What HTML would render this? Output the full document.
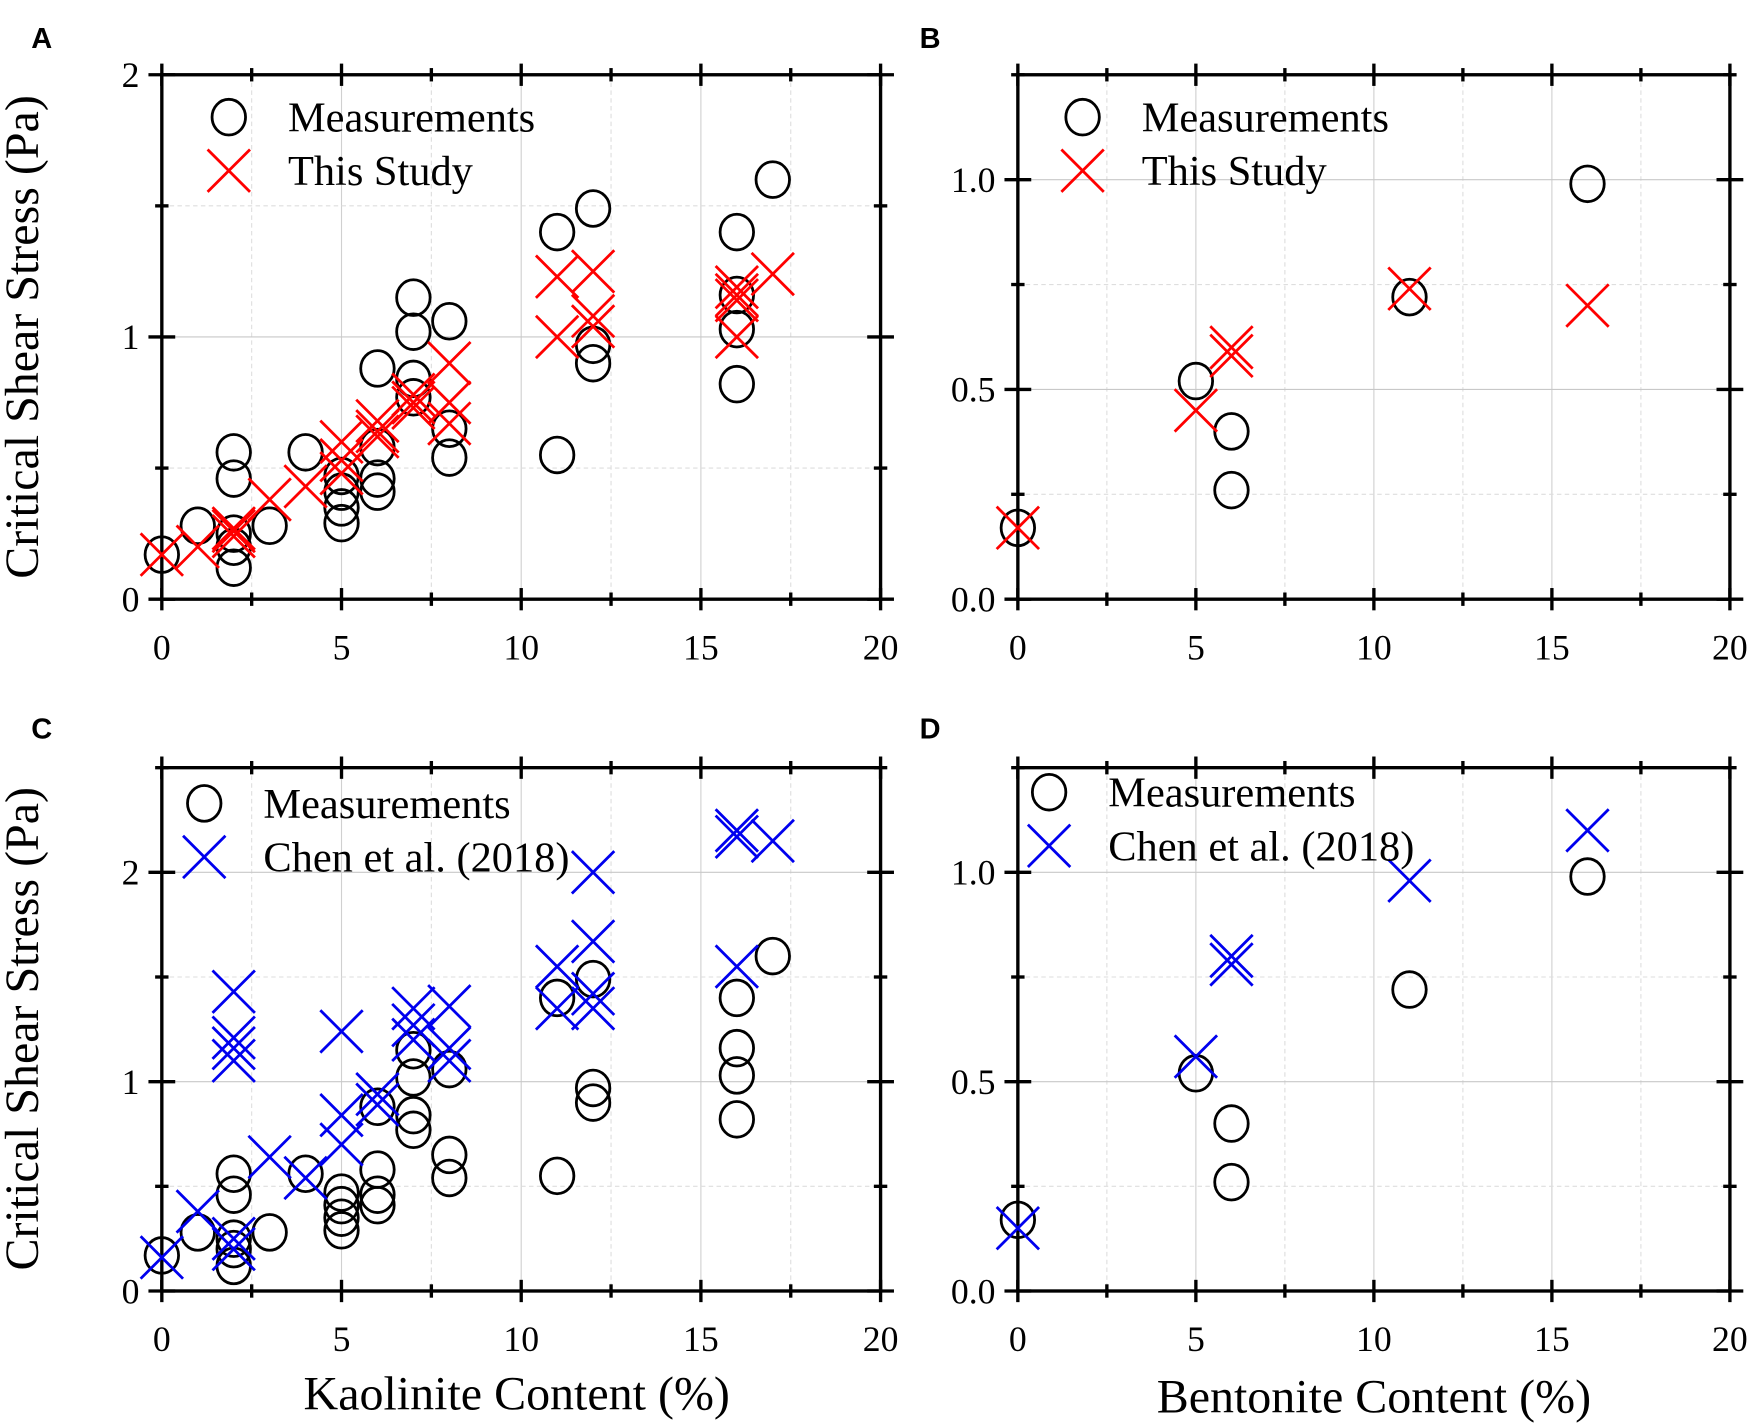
<!DOCTYPE html>
<html><head><meta charset="utf-8"><style>
html,body{margin:0;padding:0;background:#fff;}
svg{display:block;}
text{font-family:"Liberation Serif",serif;}
</style></head><body>
<svg id="fig" width="1750" height="1426" viewBox="0 0 1568 1278" preserveAspectRatio="none" xmlns="http://www.w3.org/2000/svg">
<rect width="1568" height="1278" fill="#fff"/>
</svg>
<script>
const kaoMeasX=[0,1,2,2,2,2,2,3,4,5,5,5,5,6,6,6,6,7,7,7,7,8,8,8,11,11,12,12,12,16,16,16,16,17];
const kaoMeasY=[0.17,0.28,0.56,0.46,0.25,0.2,0.12,0.28,0.56,0.47,0.41,0.35,0.29,0.88,0.58,0.46,0.41,1.15,1.02,0.84,0.77,1.06,0.65,0.54,1.4,0.55,1.49,0.97,0.9,1.4,1.16,1.03,0.82,1.6];
const kaoStudyX=[0,1,2,2,2,3,4,5,5,5,6,6,6,7,7,7,8,8,8,11,11,12,12,12,16,16,16,16,17];
const kaoStudyY=[0.17,0.2,0.24,0.26,0.27,0.38,0.43,0.6,0.53,0.48,0.68,0.64,0.62,0.78,0.75,0.73,0.9,0.75,0.67,1.23,1.0,1.25,1.08,1.04,1.19,1.16,1.14,1.0,1.24];
const benMeasX=[0,5,6,6,11,16];
const benMeasY=[0.17,0.52,0.40,0.26,0.72,0.99];
const benStudyX=[0,5,6,6,11,16];
const benStudyY=[0.17,0.45,0.58,0.60,0.74,0.70];
const kaoChenX=[0,1,2,2,2,2,2,2,3,4,5,5,5,6,6,7,7,7,8,8,8,11,11,12,12,12,12,16,16,16,17];
const kaoChenY=[0.16,0.38,1.43,1.21,1.16,1.1,0.25,0.2,0.64,0.54,1.24,0.84,0.7,0.94,0.89,1.35,1.27,1.2,1.36,1.16,1.1,1.55,1.35,2.0,1.67,1.42,1.35,2.2,2.17,1.55,2.15];
const benChenX=[0,5,6,6,11,16];
const benChenY=[0.15,0.56,0.8,0.78,0.98,1.1];
const kaoXTicks=["0","5","10","15","20"];
const panelAYTicks=["0","1","2"];
const panelCYTicks=["0","1","2"];
const benYTicks=["0.0","0.5","1.0"];

const NS="http://www.w3.org/2000/svg";
const svg=document.getElementById('fig');
function mk(tag,attrs,parent){const e=document.createElementNS(NS,tag);for(const k in attrs)e.setAttribute(k,attrs[k]);(parent||svg).appendChild(e);return e;}

function panel(cfg){
  const g=mk('g',{});
  
  
  const sx=v=>cfg.x0+(cfg.x1-cfg.x0)*v/20;
  const sy=v=>cfg.y0-(cfg.y0-cfg.yTop)*v/cfg.ymax;
  for(let v=2.5;v<20;v+=2.5){const maj=v%5===0;
    mk('line',{x1:sx(v),x2:sx(v),y1:cfg.yTop,y2:cfg.y0,stroke:maj?'#d0d0d0':'#dedede','stroke-width':1,'stroke-dasharray':maj?'':'4,3'},g);}
  for(let v=cfg.minor;v<cfg.ymax-1e-9;v+=cfg.minor){const maj=Math.abs(v/cfg.major-Math.round(v/cfg.major))<1e-6;
    mk('line',{x1:cfg.x0,x2:cfg.x1,y1:sy(v),y2:sy(v),stroke:maj?'#c8c8c8':'#dedede','stroke-width':1,'stroke-dasharray':maj?'':'4,3'},g);}
  const fr=mk('rect',{x:cfg.x0,y:cfg.yTop,width:cfg.x1-cfg.x0,height:cfg.y0-cfg.yTop,fill:'none',stroke:'#000','stroke-width':3},g);
  
  
  for(let v=0;v<=20;v+=2.5){const maj=v%5===0,L=maj?10:6;
    mk('line',{x1:sx(v),x2:sx(v),y1:cfg.y0-L,y2:cfg.y0+L,stroke:'#000','stroke-width':3},g);
    mk('line',{x1:sx(v),x2:sx(v),y1:cfg.yTop-L,y2:cfg.yTop+L,stroke:'#000','stroke-width':3},g);}
  kaoXTicks.forEach((t,i)=>{const tx=mk('text',{x:sx(i*5),y:cfg.y0+54,'font-size':32,'text-anchor':'middle'},g);tx.textContent=t;
    
    });
  for(let v=0;v<=cfg.ymax+1e-9;v+=cfg.minor){const maj=Math.abs(v/cfg.major-Math.round(v/cfg.major))<1e-6,L=maj?12:6;
    mk('line',{x1:cfg.x0-L,x2:cfg.x0+L,y1:sy(v),y2:sy(v),stroke:'#000','stroke-width':3},g);
    mk('line',{x1:cfg.x1-L,x2:cfg.x1+L,y1:sy(v),y2:sy(v),stroke:'#000','stroke-width':3},g);}
  cfg.yTicks.forEach((t,i)=>{const tx=mk('text',{x:cfg.x0-20,y:sy(i*cfg.major)+11,'font-size':32,'text-anchor':'end'},g);tx.textContent=t;
    
    });
  cfg.circX.forEach((x,i)=>{const c=mk('ellipse',{cx:sx(x),cy:sy(cfg.circY[i]),rx:15,ry:16,fill:'none',stroke:'#000','stroke-width':2.5},g);
    
    });
  cfg.crossX.forEach((x,i)=>{const px=sx(x),py=sy(cfg.crossY[i]),h=19;
    const p=mk('path',{d:`M${px-h},${py-h}L${px+h},${py+h}M${px-h},${py+h}L${px+h},${py-h}`,stroke:cfg.color,'stroke-width':2.5,fill:'none'},g);
    
    });
  const lg=mk('g',{},g);
  
  
  mk('ellipse',{cx:cfg.lx,cy:cfg.ly,rx:15,ry:16,fill:'none',stroke:'#000','stroke-width':2.5},lg);
  let t=mk('text',{x:cfg.lx+53,y:cfg.ly+13,'font-size':38},lg);t.textContent='Measurements';
  
  
  const ly2=cfg.ly+48,h=19;
  mk('path',{d:`M${cfg.lx-h},${ly2-h}L${cfg.lx+h},${ly2+h}M${cfg.lx-h},${ly2+h}L${cfg.lx+h},${ly2-h}`,stroke:cfg.color,'stroke-width':2.5,fill:'none'},lg);
  t=mk('text',{x:cfg.lx+53,y:ly2+13,'font-size':38},lg);t.textContent=cfg.label;
  
  
}

panel({name:'panel-a',x0:145,x1:789,y0:537,yTop:67,ymax:2,major:1,minor:0.5,yTicks:panelAYTicks,circX:kaoMeasX,circY:kaoMeasY,crossX:kaoStudyX,crossY:kaoStudyY,color:'#ff0000',label:'This Study',lx:205,ly:105});
panel({name:'panel-b',x0:912,x1:1550,y0:537,yTop:67,ymax:1.25,major:0.5,minor:0.25,yTicks:benYTicks,circX:benMeasX,circY:benMeasY,crossX:benStudyX,crossY:benStudyY,color:'#ff0000',label:'This Study',lx:970,ly:105});
panel({name:'panel-c',x0:145,x1:789,y0:1157,yTop:688,ymax:2.5,major:1,minor:0.5,yTicks:panelCYTicks,circX:kaoMeasX,circY:kaoMeasY,crossX:kaoChenX,crossY:kaoChenY,color:'#0000ee',label:'Chen et al. (2018)',lx:183,ly:720});
panel({name:'panel-d',x0:912,x1:1550,y0:1157,yTop:688,ymax:1.25,major:0.5,minor:0.25,yTicks:benYTicks,circX:benMeasX,circY:benMeasY,crossX:benChenX,crossY:benChenY,color:'#0000ee',label:'Chen et al. (2018)',lx:940,ly:710});

function txt(s,attrs,name){const t=mk('text',attrs);t.textContent=s;
  
  }
txt('A',{x:28,y:43,'font-size':26,'font-weight':'bold',style:'font-family:"Liberation Sans",sans-serif'},'panel-label-a');
txt('B',{x:824,y:43,'font-size':26,'font-weight':'bold',style:'font-family:"Liberation Sans",sans-serif'},'panel-label-b');
txt('C',{x:28,y:662,'font-size':26,'font-weight':'bold',style:'font-family:"Liberation Sans",sans-serif'},'panel-label-c');
txt('D',{x:824,y:662,'font-size':26,'font-weight':'bold',style:'font-family:"Liberation Sans",sans-serif'},'panel-label-d');
txt('Critical Shear Stress (Pa)',{x:0,y:0,'font-size':43,'text-anchor':'middle',transform:'translate(34,302) rotate(-90)'},'y-axis-title-a');
txt('Critical Shear Stress (Pa)',{x:0,y:0,'font-size':43,'text-anchor':'middle',transform:'translate(34,922) rotate(-90)'},'y-axis-title-c');
txt('Kaolinite Content (%)',{x:463,y:1263,'font-size':43,'text-anchor':'middle'},'x-axis-title-kaolinite');
txt('Bentonite Content (%)',{x:1231,y:1266,'font-size':43,'text-anchor':'middle'},'x-axis-title-bentonite');
</script>
</body></html>
